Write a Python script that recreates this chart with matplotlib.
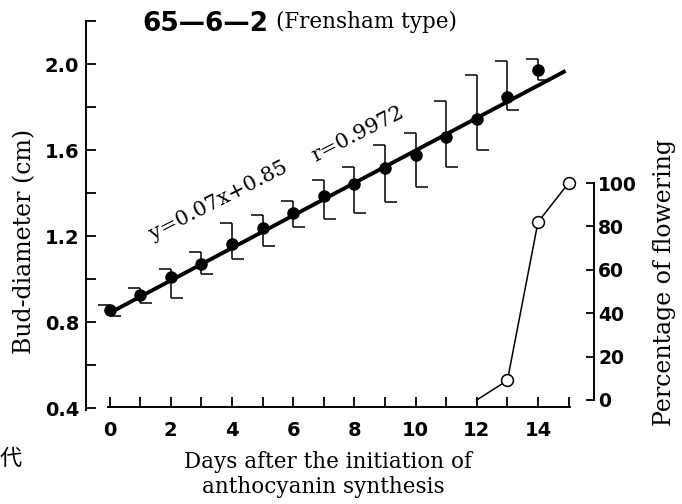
import matplotlib
matplotlib.use("Agg")
import matplotlib.pyplot as plt
from matplotlib.ticker import MultipleLocator, FixedLocator, FormatStrFormatter

# bud diameter (cm)
days = [0, 1, 2, 3, 4, 5, 6, 7, 8, 9, 10, 11, 12, 13, 14]
diam = [0.856, 0.924, 1.008, 1.07, 1.163, 1.239, 1.308, 1.386, 1.44, 1.515, 1.577, 1.659, 1.744, 1.845, 1.972]
err_hi = [0.879, 0.958, 1.045, 1.125, 1.262, 1.30, 1.363, 1.46, 1.522, 1.623, 1.68, 1.83, 1.949, 2.015, 2.022]
err_lo = [0.828, 0.887, 0.913, 1.021, 1.093, 1.153, 1.243, 1.278, 1.305, 1.36, 1.43, 1.52, 1.60, 1.786, 1.926]

# regression line as drawn
fit_x = [0, 14.9]
fit_y = [0.842, 1.968]

# percentage of flowering (no marker on the day-12 zero)
flw_days = [12, 13, 14, 15]
flw_pct = [0, 9, 82, 100]
pct_ticks = [0, 20, 40, 60, 80, 100]

W, H = 682, 504
SERIF = dict(family="DejaVu Serif", fontweight="normal")


def fx(px):
    return px / W


def fy(py):
    return 1 - py / H


fig = plt.figure(figsize=(W / 100, H / 100), dpi=100)
ax = fig.add_axes([fx(86), fy(408), (594 - 86) / W, (408 - 21) / H])
ax.set_xlim(-0.77, 15.83)
ax.set_ylim(0.4, 2.2)

for s in ("top", "right"):
    ax.spines[s].set_visible(False)
ax.spines["left"].set_bounds(0.39, 2.2)
ax.spines["bottom"].set_position(("data", 0.406))
ax.spines["bottom"].set_bounds(-0.05, 15.05)
for s in ("left", "bottom"):
    ax.spines[s].set_linewidth(1.4)

ax.yaxis.set_major_locator(MultipleLocator(0.4))
ax.yaxis.set_minor_locator(MultipleLocator(0.2))
ax.yaxis.set_major_formatter(FormatStrFormatter("%.1f"))
ax.xaxis.set_major_locator(MultipleLocator(2))
ax.xaxis.set_minor_locator(MultipleLocator(1))
ax.tick_params(axis="y", which="both", direction="in", length=7, width=1.3, pad=5, labelsize=14)
ax.tick_params(axis="x", which="both", direction="in", length=7, width=1.3, pad=10, labelsize=14)
for lbl in ax.get_xticklabels() + ax.get_yticklabels():
    lbl.set_fontweight("bold")

# error bars: top cap to the left, bottom cap to the right
cw = 0.39
ax.vlines(days, err_lo, err_hi, color="black", lw=1.1, zorder=2)
ax.hlines(err_hi, [d - cw for d in days], days, color="black", lw=1.1, zorder=2)
ax.hlines(err_lo, days, [d + cw for d in days], color="black", lw=1.1, zorder=2)
ax.plot(fit_x, fit_y, color="black", lw=2.8, solid_capstyle="butt", zorder=3)
ax.plot(days, diam, "o", color="black", ms=8, zorder=4)

ax.text(1.42, 1.181, "y=0.07x+0.85", rotation=27, rotation_mode="anchor",
        ha="left", va="baseline", fontsize=15, **SERIF)
ax.text(6.72, 1.544, "r=0.9972", rotation=27, rotation_mode="anchor",
        ha="left", va="baseline", fontsize=15, **SERIF)

ax2 = ax.twinx()
ax2.set_ylim(-3.69, 174.7)
for s in ("top", "left", "bottom"):
    ax2.spines[s].set_visible(False)
ax2.spines["right"].set_bounds(0, 100)
ax2.spines["right"].set_linewidth(1.4)
ax2.yaxis.set_major_locator(FixedLocator(pct_ticks))
ax2.tick_params(axis="y", direction="in", length=6, width=1.3, pad=3, labelsize=13.5)
for lbl in ax2.get_yticklabels():
    lbl.set_fontweight("bold")
ax2.plot(flw_days, flw_pct, "-o", color="black", lw=1.1, ms=8.5, markevery=[1, 2, 3],
         markerfacecolor="white", markeredgewidth=1.1)

# titles and axis labels
fig.text(fx(142), fy(24), "65\u20146\u20142", ha="left", va="center", fontsize=19,
         family="DejaVu Sans", fontweight="bold")
fig.text(fx(276), fy(22), "(Frensham type)", ha="left", va="center", fontsize=15.5, **SERIF)
fig.text(fx(25), fy(241), "Bud-diameter (cm)", rotation=90, ha="center", va="center",
         fontsize=17, **SERIF)
fig.text(fx(665), fy(282), "Percentage of flowering", rotation=90, ha="center", va="center",
         fontsize=17, **SERIF)
fig.text(fx(328), fy(462), "Days after the initiation of", ha="center", va="center",
         fontsize=15.5, **SERIF)
fig.text(fx(323), fy(487), "anthocyanin synthesis", ha="center", va="center",
         fontsize=15.5, **SERIF)
fig.text(fx(0), fy(458), "代", ha="left", va="center", fontsize=16, family="Noto Sans CJK JP")

fig.savefig("out.png", dpi=100)
